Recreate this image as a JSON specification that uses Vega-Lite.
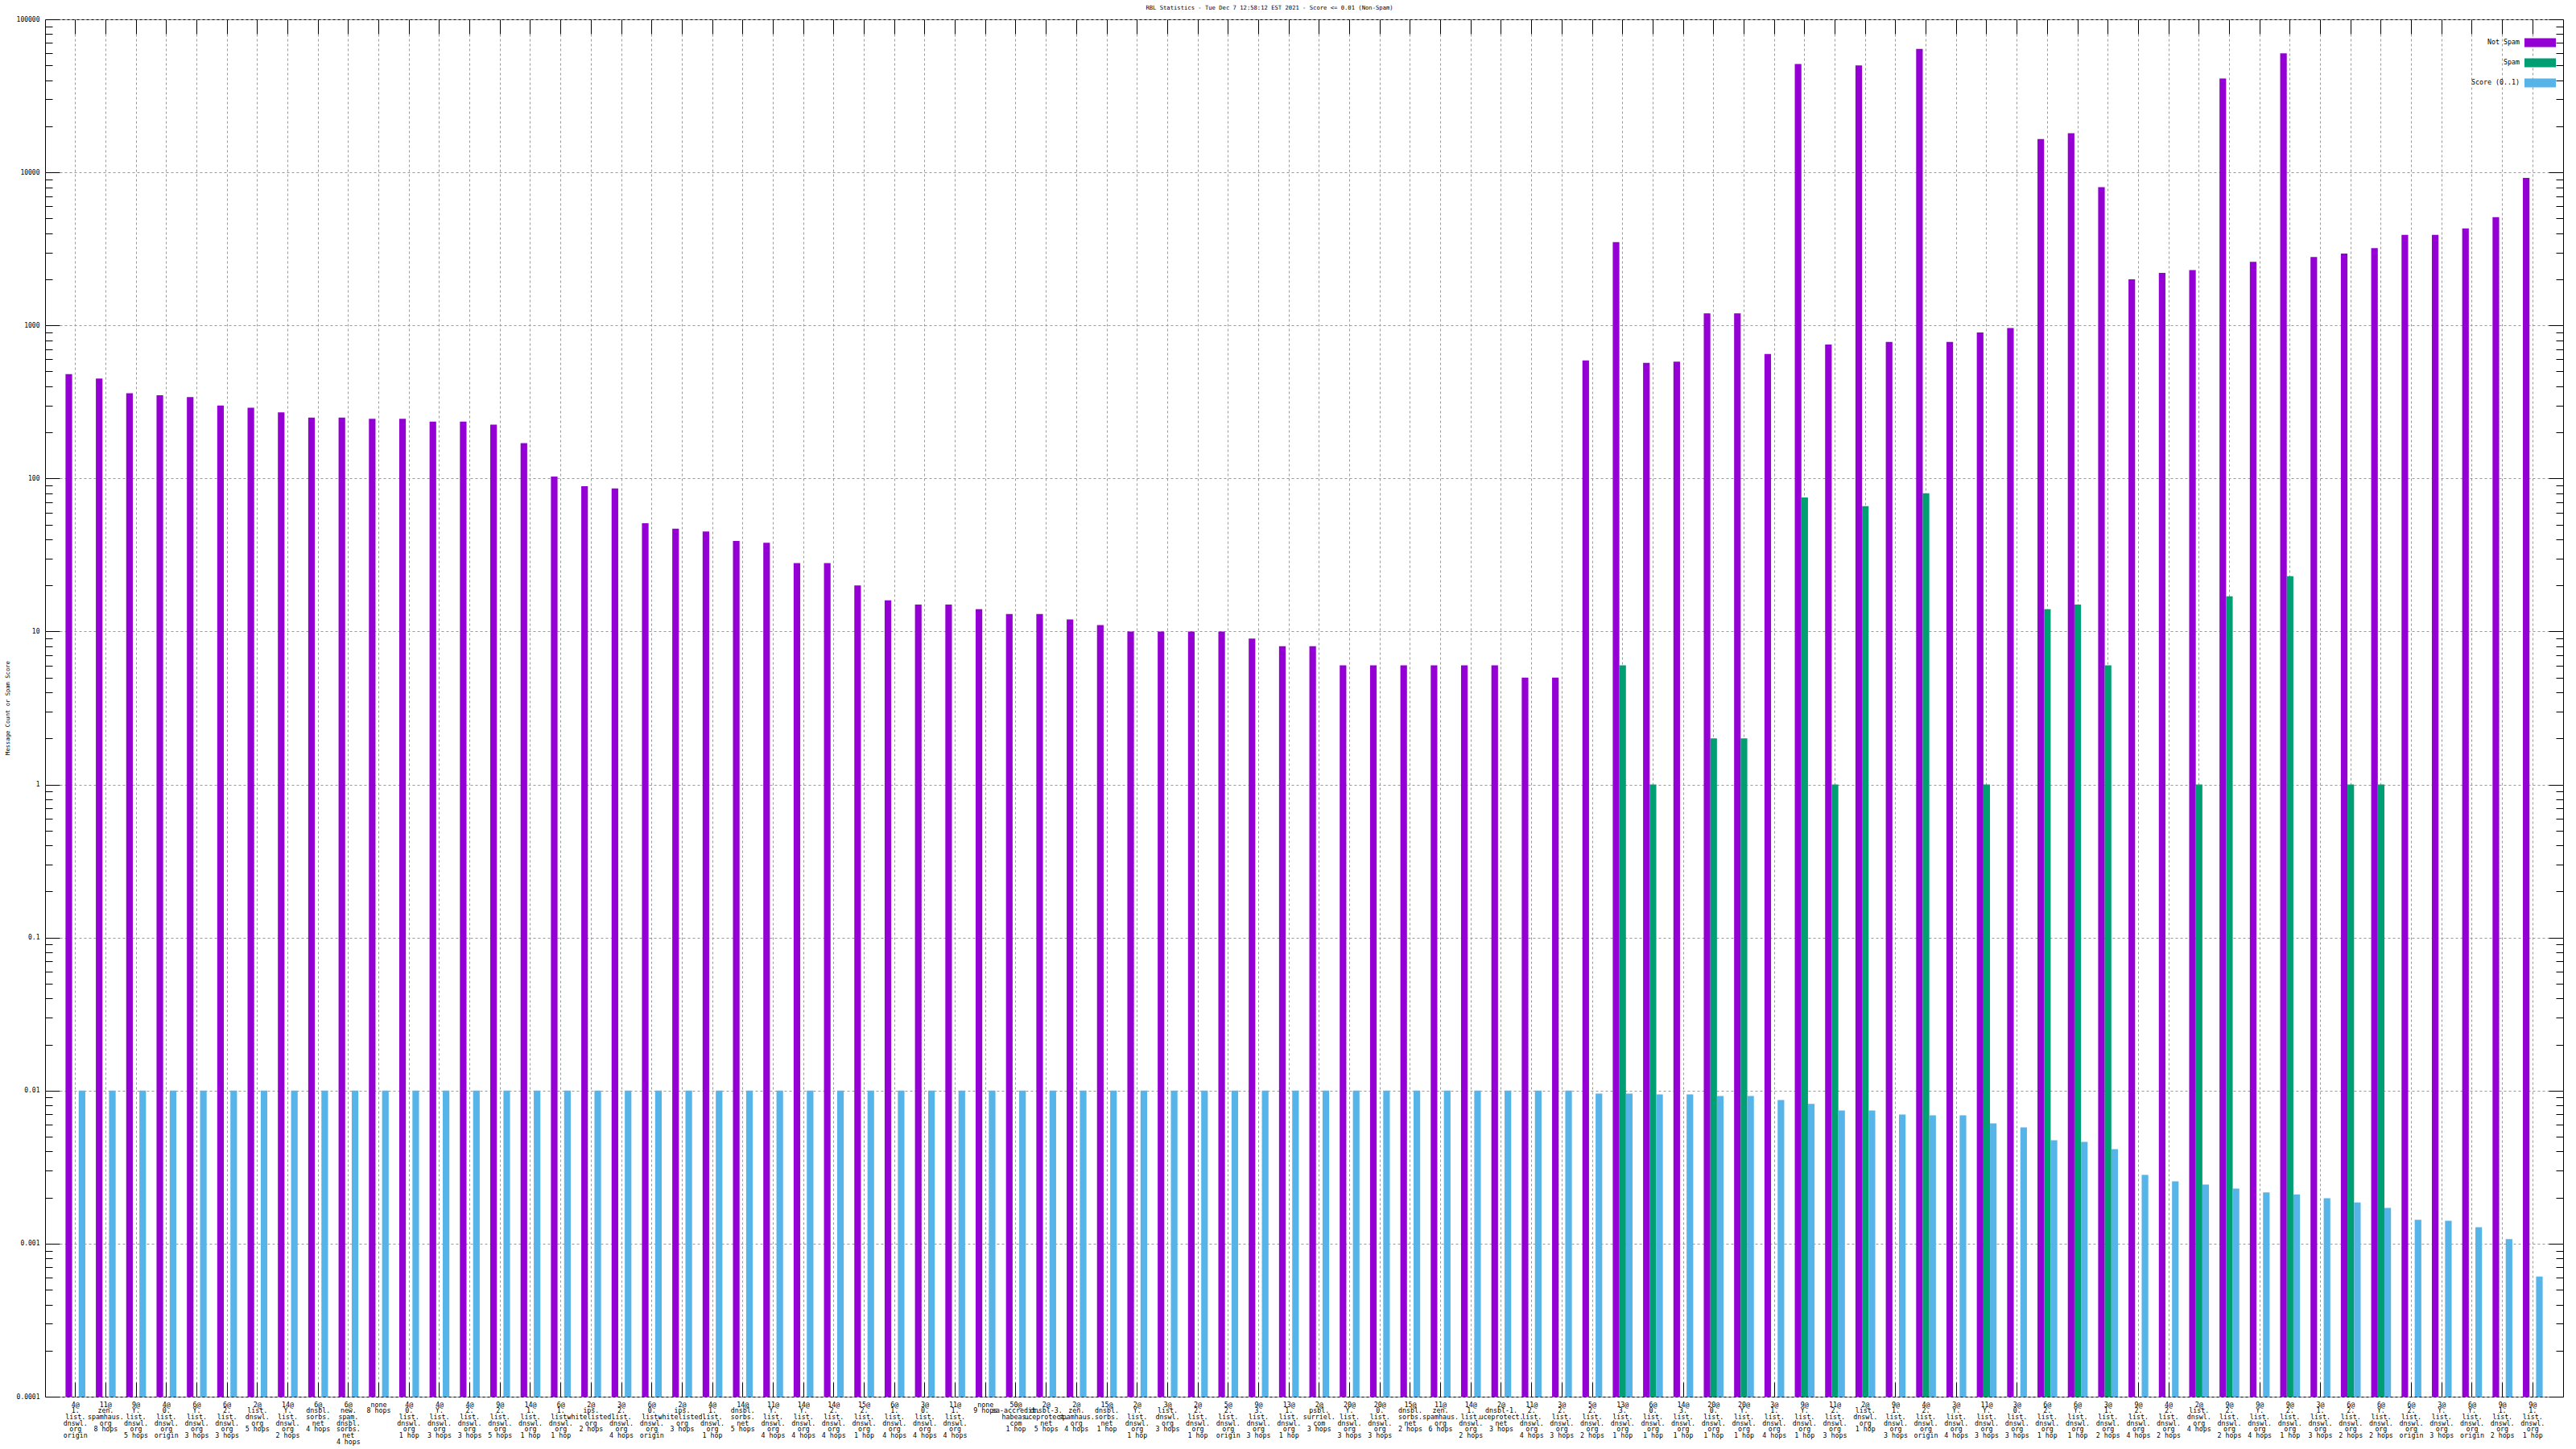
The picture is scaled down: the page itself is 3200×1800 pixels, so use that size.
{
"$schema": "https://vega.github.io/schema/vega-lite/v6.json",
"width": 3128, "height": 1711,
"autosize": {"type": "none"},
"padding": {"left": 56, "top": 24, "right": 16, "bottom": 65},
"background": "white",
"config": {"view": {"stroke": "black", "strokeWidth": 1}, "font": "DejaVu Sans Mono"},
"title": {"text": "RBL Statistics - Tue Dec  7 12:58:12 EST 2021 - Score <= 0.01 (Non-Spam)", "font": "DejaVu Sans Mono", "fontSize": 7.2, "fontWeight": "normal", "color": "black", "anchor": "middle", "dx": -43, "offset": 7},
"data": {"values": [
{"c":"4@|1.|list.|dnswl.|org|origin","s":"Not Spam","v":480},
{"c":"11@|zen.|spamhaus.|org|8 hops","s":"Not Spam","v":450},
{"c":"9@|Y.|list.|dnswl.|org|5 hops","s":"Not Spam","v":360},
{"c":"4@|0.|list.|dnswl.|org|origin","s":"Not Spam","v":350},
{"c":"6@|Y.|list.|dnswl.|org|3 hops","s":"Not Spam","v":340},
{"c":"6@|2.|list.|dnswl.|org|3 hops","s":"Not Spam","v":300},
{"c":"2@|list.|dnswl.|org|5 hops","s":"Not Spam","v":290},
{"c":"14@|Y.|list.|dnswl.|org|2 hops","s":"Not Spam","v":270},
{"c":"6@|dnsbl.|sorbs.|net|4 hops","s":"Not Spam","v":250},
{"c":"6@|new.|spam.|dnsbl.|sorbs.|net|4 hops","s":"Not Spam","v":250},
{"c":"none|8 hops","s":"Not Spam","v":245},
{"c":"4@|0.|list.|dnswl.|org|1 hop","s":"Not Spam","v":245},
{"c":"4@|Y.|list.|dnswl.|org|3 hops","s":"Not Spam","v":235},
{"c":"4@|2.|list.|dnswl.|org|3 hops","s":"Not Spam","v":235},
{"c":"9@|2.|list.|dnswl.|org|5 hops","s":"Not Spam","v":225},
{"c":"14@|1.|list.|dnswl.|org|1 hop","s":"Not Spam","v":170},
{"c":"6@|1.|list.|dnswl.|org|1 hop","s":"Not Spam","v":103},
{"c":"2@|ips.|whitelisted.|org|2 hops","s":"Not Spam","v":89},
{"c":"3@|2.|list.|dnswl.|org|4 hops","s":"Not Spam","v":86},
{"c":"6@|0.|list.|dnswl.|org|origin","s":"Not Spam","v":51},
{"c":"2@|ips.|whitelisted.|org|3 hops","s":"Not Spam","v":47},
{"c":"4@|1.|list.|dnswl.|org|1 hop","s":"Not Spam","v":45},
{"c":"14@|dnsbl.|sorbs.|net|5 hops","s":"Not Spam","v":39},
{"c":"11@|Y.|list.|dnswl.|org|4 hops","s":"Not Spam","v":38},
{"c":"14@|Y.|list.|dnswl.|org|4 hops","s":"Not Spam","v":28},
{"c":"14@|2.|list.|dnswl.|org|4 hops","s":"Not Spam","v":28},
{"c":"15@|2.|list.|dnswl.|org|1 hop","s":"Not Spam","v":20},
{"c":"6@|1.|list.|dnswl.|org|4 hops","s":"Not Spam","v":16},
{"c":"3@|0.|list.|dnswl.|org|4 hops","s":"Not Spam","v":15},
{"c":"11@|1.|list.|dnswl.|org|4 hops","s":"Not Spam","v":15},
{"c":"none|9 hops","s":"Not Spam","v":14},
{"c":"50@|sa-accredit.|habeas.|com|1 hop","s":"Not Spam","v":13},
{"c":"2@|dnsbl-3.|uceprotect.|net|5 hops","s":"Not Spam","v":13},
{"c":"2@|zen.|spamhaus.|org|4 hops","s":"Not Spam","v":12},
{"c":"15@|dnsbl.|sorbs.|net|1 hop","s":"Not Spam","v":11},
{"c":"2@|Y.|list.|dnswl.|org|1 hop","s":"Not Spam","v":10},
{"c":"3@|list.|dnswl.|org|3 hops","s":"Not Spam","v":10},
{"c":"2@|2.|list.|dnswl.|org|1 hop","s":"Not Spam","v":10},
{"c":"5@|2.|list.|dnswl.|org|origin","s":"Not Spam","v":10},
{"c":"9@|3.|list.|dnswl.|org|3 hops","s":"Not Spam","v":9},
{"c":"13@|1.|list.|dnswl.|org|1 hop","s":"Not Spam","v":8},
{"c":"2@|psbl.|surriel.|com|3 hops","s":"Not Spam","v":8},
{"c":"20@|Y.|list.|dnswl.|org|3 hops","s":"Not Spam","v":6},
{"c":"20@|0.|list.|dnswl.|org|3 hops","s":"Not Spam","v":6},
{"c":"15@|dnsbl.|sorbs.|net|2 hops","s":"Not Spam","v":6},
{"c":"11@|zen.|spamhaus.|org|6 hops","s":"Not Spam","v":6},
{"c":"14@|1.|list.|dnswl.|org|2 hops","s":"Not Spam","v":6},
{"c":"2@|dnsbl-1.|uceprotect.|net|3 hops","s":"Not Spam","v":6},
{"c":"11@|2.|list.|dnswl.|org|4 hops","s":"Not Spam","v":5},
{"c":"3@|2.|list.|dnswl.|org|3 hops","s":"Not Spam","v":5},
{"c":"5@|2.|list.|dnswl.|org|2 hops","s":"Not Spam","v":590},
{"c":"13@|3.|list.|dnswl.|org|1 hop","s":"Not Spam","v":3500},
{"c":"6@|0.|list.|dnswl.|org|1 hop","s":"Not Spam","v":570},
{"c":"14@|3.|list.|dnswl.|org|1 hop","s":"Not Spam","v":580},
{"c":"20@|0.|list.|dnswl.|org|1 hop","s":"Not Spam","v":1200},
{"c":"20@|Y.|list.|dnswl.|org|1 hop","s":"Not Spam","v":1200},
{"c":"3@|1.|list.|dnswl.|org|4 hops","s":"Not Spam","v":650},
{"c":"9@|Y.|list.|dnswl.|org|1 hop","s":"Not Spam","v":51000},
{"c":"11@|2.|list.|dnswl.|org|3 hops","s":"Not Spam","v":750},
{"c":"2@|list.|dnswl.|org|1 hop","s":"Not Spam","v":50000},
{"c":"9@|1.|list.|dnswl.|org|3 hops","s":"Not Spam","v":780},
{"c":"4@|2.|list.|dnswl.|org|origin","s":"Not Spam","v":64000},
{"c":"3@|Y.|list.|dnswl.|org|4 hops","s":"Not Spam","v":780},
{"c":"11@|Y.|list.|dnswl.|org|3 hops","s":"Not Spam","v":900},
{"c":"3@|0.|list.|dnswl.|org|3 hops","s":"Not Spam","v":960},
{"c":"6@|2.|list.|dnswl.|org|1 hop","s":"Not Spam","v":16500},
{"c":"6@|Y.|list.|dnswl.|org|1 hop","s":"Not Spam","v":18000},
{"c":"3@|1.|list.|dnswl.|org|2 hops","s":"Not Spam","v":8000},
{"c":"9@|2.|list.|dnswl.|org|4 hops","s":"Not Spam","v":2000},
{"c":"4@|2.|list.|dnswl.|org|2 hops","s":"Not Spam","v":2200},
{"c":"2@|list.|dnswl.|org|4 hops","s":"Not Spam","v":2300},
{"c":"9@|2.|list.|dnswl.|org|2 hops","s":"Not Spam","v":41000},
{"c":"9@|Y.|list.|dnswl.|org|4 hops","s":"Not Spam","v":2600},
{"c":"9@|2.|list.|dnswl.|org|1 hop","s":"Not Spam","v":60000},
{"c":"3@|1.|list.|dnswl.|org|3 hops","s":"Not Spam","v":2800},
{"c":"6@|2.|list.|dnswl.|org|2 hops","s":"Not Spam","v":2950},
{"c":"6@|Y.|list.|dnswl.|org|2 hops","s":"Not Spam","v":3200},
{"c":"6@|2.|list.|dnswl.|org|origin","s":"Not Spam","v":3900},
{"c":"3@|Y.|list.|dnswl.|org|3 hops","s":"Not Spam","v":3900},
{"c":"6@|Y.|list.|dnswl.|org|origin","s":"Not Spam","v":4300},
{"c":"9@|1.|list.|dnswl.|org|2 hops","s":"Not Spam","v":5100},
{"c":"9@|1.|list.|dnswl.|org|1 hop","s":"Not Spam","v":9200},
{"c":"13@|3.|list.|dnswl.|org|1 hop","s":"Spam","v":6},
{"c":"6@|0.|list.|dnswl.|org|1 hop","s":"Spam","v":1},
{"c":"20@|0.|list.|dnswl.|org|1 hop","s":"Spam","v":2},
{"c":"20@|Y.|list.|dnswl.|org|1 hop","s":"Spam","v":2},
{"c":"9@|Y.|list.|dnswl.|org|1 hop","s":"Spam","v":75},
{"c":"11@|2.|list.|dnswl.|org|3 hops","s":"Spam","v":1},
{"c":"2@|list.|dnswl.|org|1 hop","s":"Spam","v":66},
{"c":"4@|2.|list.|dnswl.|org|origin","s":"Spam","v":80},
{"c":"11@|Y.|list.|dnswl.|org|3 hops","s":"Spam","v":1},
{"c":"6@|2.|list.|dnswl.|org|1 hop","s":"Spam","v":14},
{"c":"6@|Y.|list.|dnswl.|org|1 hop","s":"Spam","v":15},
{"c":"3@|1.|list.|dnswl.|org|2 hops","s":"Spam","v":6},
{"c":"2@|list.|dnswl.|org|4 hops","s":"Spam","v":1},
{"c":"9@|2.|list.|dnswl.|org|2 hops","s":"Spam","v":17},
{"c":"9@|2.|list.|dnswl.|org|1 hop","s":"Spam","v":23},
{"c":"6@|2.|list.|dnswl.|org|2 hops","s":"Spam","v":1},
{"c":"6@|Y.|list.|dnswl.|org|2 hops","s":"Spam","v":1},
{"c":"4@|1.|list.|dnswl.|org|origin","s":"Score (0..1)","v":0.01},
{"c":"11@|zen.|spamhaus.|org|8 hops","s":"Score (0..1)","v":0.01},
{"c":"9@|Y.|list.|dnswl.|org|5 hops","s":"Score (0..1)","v":0.01},
{"c":"4@|0.|list.|dnswl.|org|origin","s":"Score (0..1)","v":0.01},
{"c":"6@|Y.|list.|dnswl.|org|3 hops","s":"Score (0..1)","v":0.01},
{"c":"6@|2.|list.|dnswl.|org|3 hops","s":"Score (0..1)","v":0.01},
{"c":"2@|list.|dnswl.|org|5 hops","s":"Score (0..1)","v":0.01},
{"c":"14@|Y.|list.|dnswl.|org|2 hops","s":"Score (0..1)","v":0.01},
{"c":"6@|dnsbl.|sorbs.|net|4 hops","s":"Score (0..1)","v":0.01},
{"c":"6@|new.|spam.|dnsbl.|sorbs.|net|4 hops","s":"Score (0..1)","v":0.01},
{"c":"none|8 hops","s":"Score (0..1)","v":0.01},
{"c":"4@|0.|list.|dnswl.|org|1 hop","s":"Score (0..1)","v":0.01},
{"c":"4@|Y.|list.|dnswl.|org|3 hops","s":"Score (0..1)","v":0.01},
{"c":"4@|2.|list.|dnswl.|org|3 hops","s":"Score (0..1)","v":0.01},
{"c":"9@|2.|list.|dnswl.|org|5 hops","s":"Score (0..1)","v":0.01},
{"c":"14@|1.|list.|dnswl.|org|1 hop","s":"Score (0..1)","v":0.01},
{"c":"6@|1.|list.|dnswl.|org|1 hop","s":"Score (0..1)","v":0.01},
{"c":"2@|ips.|whitelisted.|org|2 hops","s":"Score (0..1)","v":0.01},
{"c":"3@|2.|list.|dnswl.|org|4 hops","s":"Score (0..1)","v":0.01},
{"c":"6@|0.|list.|dnswl.|org|origin","s":"Score (0..1)","v":0.01},
{"c":"2@|ips.|whitelisted.|org|3 hops","s":"Score (0..1)","v":0.01},
{"c":"4@|1.|list.|dnswl.|org|1 hop","s":"Score (0..1)","v":0.01},
{"c":"14@|dnsbl.|sorbs.|net|5 hops","s":"Score (0..1)","v":0.01},
{"c":"11@|Y.|list.|dnswl.|org|4 hops","s":"Score (0..1)","v":0.01},
{"c":"14@|Y.|list.|dnswl.|org|4 hops","s":"Score (0..1)","v":0.01},
{"c":"14@|2.|list.|dnswl.|org|4 hops","s":"Score (0..1)","v":0.01},
{"c":"15@|2.|list.|dnswl.|org|1 hop","s":"Score (0..1)","v":0.01},
{"c":"6@|1.|list.|dnswl.|org|4 hops","s":"Score (0..1)","v":0.01},
{"c":"3@|0.|list.|dnswl.|org|4 hops","s":"Score (0..1)","v":0.01},
{"c":"11@|1.|list.|dnswl.|org|4 hops","s":"Score (0..1)","v":0.01},
{"c":"none|9 hops","s":"Score (0..1)","v":0.01},
{"c":"50@|sa-accredit.|habeas.|com|1 hop","s":"Score (0..1)","v":0.01},
{"c":"2@|dnsbl-3.|uceprotect.|net|5 hops","s":"Score (0..1)","v":0.01},
{"c":"2@|zen.|spamhaus.|org|4 hops","s":"Score (0..1)","v":0.01},
{"c":"15@|dnsbl.|sorbs.|net|1 hop","s":"Score (0..1)","v":0.01},
{"c":"2@|Y.|list.|dnswl.|org|1 hop","s":"Score (0..1)","v":0.01},
{"c":"3@|list.|dnswl.|org|3 hops","s":"Score (0..1)","v":0.01},
{"c":"2@|2.|list.|dnswl.|org|1 hop","s":"Score (0..1)","v":0.01},
{"c":"5@|2.|list.|dnswl.|org|origin","s":"Score (0..1)","v":0.01},
{"c":"9@|3.|list.|dnswl.|org|3 hops","s":"Score (0..1)","v":0.01},
{"c":"13@|1.|list.|dnswl.|org|1 hop","s":"Score (0..1)","v":0.01},
{"c":"2@|psbl.|surriel.|com|3 hops","s":"Score (0..1)","v":0.01},
{"c":"20@|Y.|list.|dnswl.|org|3 hops","s":"Score (0..1)","v":0.01},
{"c":"20@|0.|list.|dnswl.|org|3 hops","s":"Score (0..1)","v":0.01},
{"c":"15@|dnsbl.|sorbs.|net|2 hops","s":"Score (0..1)","v":0.01},
{"c":"11@|zen.|spamhaus.|org|6 hops","s":"Score (0..1)","v":0.01},
{"c":"14@|1.|list.|dnswl.|org|2 hops","s":"Score (0..1)","v":0.01},
{"c":"2@|dnsbl-1.|uceprotect.|net|3 hops","s":"Score (0..1)","v":0.01},
{"c":"11@|2.|list.|dnswl.|org|4 hops","s":"Score (0..1)","v":0.01},
{"c":"3@|2.|list.|dnswl.|org|3 hops","s":"Score (0..1)","v":0.01},
{"c":"5@|2.|list.|dnswl.|org|2 hops","s":"Score (0..1)","v":0.00957},
{"c":"13@|3.|list.|dnswl.|org|1 hop","s":"Score (0..1)","v":0.00957},
{"c":"6@|0.|list.|dnswl.|org|1 hop","s":"Score (0..1)","v":0.00945},
{"c":"14@|3.|list.|dnswl.|org|1 hop","s":"Score (0..1)","v":0.00945},
{"c":"20@|0.|list.|dnswl.|org|1 hop","s":"Score (0..1)","v":0.00923},
{"c":"20@|Y.|list.|dnswl.|org|1 hop","s":"Score (0..1)","v":0.00923},
{"c":"3@|1.|list.|dnswl.|org|4 hops","s":"Score (0..1)","v":0.00868},
{"c":"9@|Y.|list.|dnswl.|org|1 hop","s":"Score (0..1)","v":0.00818},
{"c":"11@|2.|list.|dnswl.|org|3 hops","s":"Score (0..1)","v":0.00742},
{"c":"2@|list.|dnswl.|org|1 hop","s":"Score (0..1)","v":0.00742},
{"c":"9@|1.|list.|dnswl.|org|3 hops","s":"Score (0..1)","v":0.00698},
{"c":"4@|2.|list.|dnswl.|org|origin","s":"Score (0..1)","v":0.0069},
{"c":"3@|Y.|list.|dnswl.|org|4 hops","s":"Score (0..1)","v":0.0069},
{"c":"11@|Y.|list.|dnswl.|org|3 hops","s":"Score (0..1)","v":0.00611},
{"c":"3@|0.|list.|dnswl.|org|3 hops","s":"Score (0..1)","v":0.00575},
{"c":"6@|2.|list.|dnswl.|org|1 hop","s":"Score (0..1)","v":0.00474},
{"c":"6@|Y.|list.|dnswl.|org|1 hop","s":"Score (0..1)","v":0.00462},
{"c":"3@|1.|list.|dnswl.|org|2 hops","s":"Score (0..1)","v":0.00414},
{"c":"9@|2.|list.|dnswl.|org|4 hops","s":"Score (0..1)","v":0.00281},
{"c":"4@|2.|list.|dnswl.|org|2 hops","s":"Score (0..1)","v":0.00255},
{"c":"2@|list.|dnswl.|org|4 hops","s":"Score (0..1)","v":0.00243},
{"c":"9@|2.|list.|dnswl.|org|2 hops","s":"Score (0..1)","v":0.00229},
{"c":"9@|Y.|list.|dnswl.|org|4 hops","s":"Score (0..1)","v":0.00216},
{"c":"9@|2.|list.|dnswl.|org|1 hop","s":"Score (0..1)","v":0.0021},
{"c":"3@|1.|list.|dnswl.|org|3 hops","s":"Score (0..1)","v":0.00198},
{"c":"6@|2.|list.|dnswl.|org|2 hops","s":"Score (0..1)","v":0.00186},
{"c":"6@|Y.|list.|dnswl.|org|2 hops","s":"Score (0..1)","v":0.00171},
{"c":"6@|2.|list.|dnswl.|org|origin","s":"Score (0..1)","v":0.00143},
{"c":"3@|Y.|list.|dnswl.|org|3 hops","s":"Score (0..1)","v":0.00141},
{"c":"6@|Y.|list.|dnswl.|org|origin","s":"Score (0..1)","v":0.00128},
{"c":"9@|1.|list.|dnswl.|org|2 hops","s":"Score (0..1)","v":0.00107},
{"c":"9@|1.|list.|dnswl.|org|1 hop","s":"Score (0..1)","v":0.00061}
]},
"layer": [
{
"mark": {"type": "bar"},
"encoding": {
"x": {"field": "c", "type": "nominal", "sort": null, "scale": {"paddingInner": 0, "paddingOuter": 0.5},
 "axis": {"title": null, "orient": "bottom", "bandPosition": 0.5, "labelExpr": "split(datum.label, '|')", "labelAngle": 0, "labelFont": "DejaVu Sans Mono", "labelFontSize": 8.3, "labelLineHeight": 7.7, "labelColor": "black", "labelOverlap": false, "labelBound": false, "labelLimit": 300, "labelPadding": 23, "labelBaseline": "top", "tickSize": -18, "tickColor": "black", "tickWidth": 1, "domain": false, "grid": true, "gridColor": "#999999", "gridDash": [3, 3], "gridWidth": 1}},
"xOffset": {"field": "s", "type": "nominal", "scale": {"domain": ["Not Spam", "Spam", "Score (0..1)"], "paddingInner": 0, "paddingOuter": 0.8}},
"y": {"field": "v", "type": "quantitative", "stack": null, "scale": {"type": "log", "domain": [0.0001, 100000], "nice": false},
 "axis": {"title": "Message Count or Spam Score", "titleFont": "DejaVu Sans Mono", "titleFontSize": 7.2, "titleFontWeight": "normal", "titleColor": "black", "titleX": -47, "titleY": 855, "titleAngle": -90, "titleAlign": "center", "titleBaseline": "middle",
  "values": [0.0001,0.0002,0.0003,0.0004,0.0005,0.0006,0.0007,0.0008,0.0009,0.001,0.002,0.003,0.004,0.005,0.006,0.007,0.008,0.009,0.01,0.02,0.03,0.04,0.05,0.06,0.07,0.08,0.09,0.1,0.2,0.3,0.4,0.5,0.6,0.7,0.8,0.9,1,2,3,4,5,6,7,8,9,10,20,30,40,50,60,70,80,90,100,200,300,400,500,600,700,800,900,1000,2000,3000,4000,5000,6000,7000,8000,9000,10000,20000,30000,40000,50000,60000,70000,80000,90000,100000],
  "labelExpr": "abs(log(datum.value)/LN10 - round(log(datum.value)/LN10)) < 0.0001 ? format(datum.value, '~f') : ''",
  "labelFont": "DejaVu Sans Mono", "labelFontSize": 8, "labelColor": "black", "labelPadding": 25, "labelOverlap": false, "labelBound": false,
  "tickSize": {"condition": {"test": "abs(log(datum.value)/LN10 - round(log(datum.value)/LN10)) < 0.0001", "value": -18}, "value": -9},
  "tickColor": "black", "tickWidth": 1, "domain": false,
  "grid": true, "gridColor": "#999999", "gridDash": [3, 3], "gridWidth": 1,
  "gridOpacity": {"condition": {"test": "abs(log(datum.value)/LN10 - round(log(datum.value)/LN10)) < 0.0001", "value": 1}, "value": 0}}},
"color": {"field": "s", "type": "nominal", "scale": {"domain": ["Not Spam", "Spam", "Score (0..1)"], "range": ["#9400d3", "#009e73", "#56b4e9"]},
 "legend": {"orient": "none", "legendX": 3080, "legendY": 9.5, "title": null, "symbolType": "M-1,-0.282L1,-0.282L1,0.282L-1,0.282Z", "symbolSize": 1521, "symbolStrokeWidth": 0, "symbolOpacity": 1, "labelAlign": "right", "labelOffset": -45, "labelFont": "DejaVu Sans Mono", "labelFontSize": 8.3, "labelColor": "black", "rowPadding": -17, "padding": 0}}
}
},
{
"mark": {"type": "bar", "opacity": 0},
"encoding": {
"x": {"field": "c", "type": "nominal", "sort": null,
 "axis": {"title": null, "orient": "top", "bandPosition": 0.5, "labels": false, "tickSize": -18, "tickColor": "black", "tickWidth": 1, "domain": false, "grid": false}},
"y": {"field": "v", "type": "quantitative", "stack": null,
 "axis": {"title": null, "orient": "right",
  "values": [0.0001,0.0002,0.0003,0.0004,0.0005,0.0006,0.0007,0.0008,0.0009,0.001,0.002,0.003,0.004,0.005,0.006,0.007,0.008,0.009,0.01,0.02,0.03,0.04,0.05,0.06,0.07,0.08,0.09,0.1,0.2,0.3,0.4,0.5,0.6,0.7,0.8,0.9,1,2,3,4,5,6,7,8,9,10,20,30,40,50,60,70,80,90,100,200,300,400,500,600,700,800,900,1000,2000,3000,4000,5000,6000,7000,8000,9000,10000,20000,30000,40000,50000,60000,70000,80000,90000,100000],
  "labels": false,
  "tickSize": {"condition": {"test": "abs(log(datum.value)/LN10 - round(log(datum.value)/LN10)) < 0.0001", "value": -18}, "value": -9},
  "tickColor": "black", "tickWidth": 1, "domain": false, "grid": false}}
}
}
],
"resolve": {"axis": {"x": "independent", "y": "independent"}}
}
